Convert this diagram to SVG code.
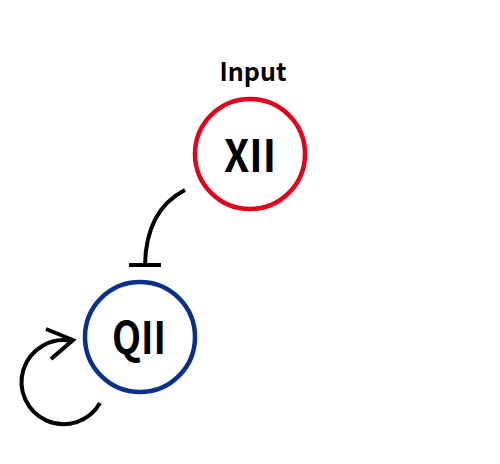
<svg xmlns="http://www.w3.org/2000/svg" width="500" height="464" viewBox="0 0 500 464">
<style>
.lbl{font-family:"Noto Sans CJK JP","Liberation Sans",sans-serif;font-weight:bold;fill:#000;text-anchor:middle}
.edge{fill:none;stroke:#000;stroke-width:4}
</style>
<rect width="500" height="464" fill="#fff"/>
<text class="lbl" x="253" y="81" font-size="25">Input</text>
<g id="XII">
<circle cx="250" cy="154" r="55" fill="#fff" stroke="#e2001a" stroke-width="4.5"/>
<text class="lbl" x="250" y="172" font-size="44" textLength="52" lengthAdjust="spacingAndGlyphs">XII</text>
</g>
<g id="QII">
<circle cx="140" cy="337" r="55" fill="#fff" stroke="#0a2f8c" stroke-width="4.5"/>
<text class="lbl" x="139" y="354" font-size="44" textLength="54" lengthAdjust="spacingAndGlyphs">QII</text>
</g>
<g id="connectors">
<path class="edge" d="M185,190 Q146,210 145,265"/>
<path class="edge" d="M129,265 H161"/>
<path class="edge" d="M100,403 A42,42 0 1,1 72,341"/>
<path class="edge" d="M46,329 L73,340 L51,359"/>
</g>
</svg>
